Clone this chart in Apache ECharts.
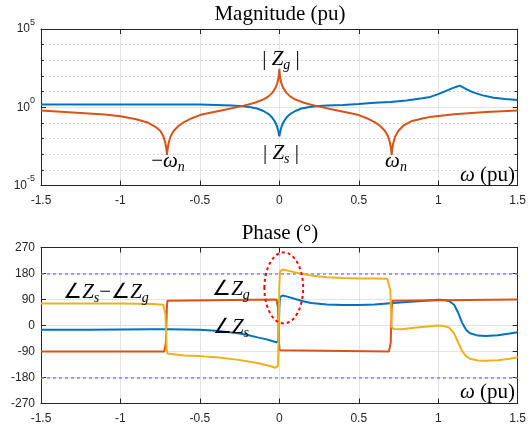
<!DOCTYPE html>
<html><head><meta charset="utf-8">
<script src="https://cdn.jsdelivr.net/npm/echarts@6/dist/echarts.min.js"></script>
<style>html,body{margin:0;padding:0;background:#fff}#c{width:529px;height:432px}</style>
</head><body><div id="c"></div><script>
// ---------- data ----------
const xTicks = [-1.5, -1, -0.5, 0, 0.5, 1, 1.5];
const magTickExponents = [-5, 0, 5];
const phaseTicks = [-270, -180, -90, 0, 90, 180, 270];
const phaseRefLines = [180, -180];

// |Z_s| (log10 of magnitude)
const zsMagOmega = [-1.5,-1.2,-0.9,-0.7,-0.5,-0.4,-0.3,-0.23,-0.18,-0.14,-0.1,-0.07,-0.05,-0.03,-0.015,-0.006,0,0.006,0.015,0.03,0.05,0.07,0.1,0.14,0.18,0.23,0.3,0.4,0.5,0.6,0.7,0.8,0.9,0.95,1.0,1.05,1.09,1.12,1.135,1.15,1.18,1.22,1.28,1.35,1.42,1.5];
const zsMagLog10 = [0.18,0.18,0.18,0.18,0.17,0.15,0.11,0.06,0.0,-0.08,-0.24,-0.42,-0.6,-0.88,-1.2,-1.55,-1.85,-1.55,-1.2,-0.88,-0.6,-0.42,-0.24,-0.08,0.0,0.06,0.11,0.15,0.2,0.29,0.34,0.43,0.57,0.66,0.84,1.05,1.22,1.33,1.38,1.3,1.14,0.95,0.76,0.61,0.53,0.46];

// |Z_g| (log10 of magnitude)
const zgMagOmega = [-1.5,-1.3,-1.1,-1.0,-0.9,-0.83,-0.78,-0.75,-0.73,-0.718,-0.711,-0.707,-0.703,-0.696,-0.684,-0.664,-0.635,-0.6,-0.55,-0.5,-0.45,-0.35,-0.25,-0.2,-0.15,-0.1,-0.07,-0.045,-0.025,-0.012,-0.004,0,0.004,0.012,0.025,0.045,0.07,0.1,0.15,0.2,0.25,0.35,0.45,0.5,0.55,0.6,0.635,0.664,0.684,0.696,0.703,0.707,0.711,0.718,0.73,0.75,0.78,0.83,0.9,0.96,1.1,1.3,1.5];
const zgMagLog10 = [-0.21,-0.33,-0.47,-0.58,-0.77,-0.97,-1.25,-1.5,-1.85,-2.25,-2.65,-3.05,-2.65,-2.25,-1.85,-1.5,-1.2,-0.95,-0.7,-0.5,-0.38,-0.17,0.04,0.16,0.3,0.5,0.68,0.92,1.22,1.55,1.95,2.45,1.95,1.55,1.22,0.92,0.68,0.5,0.3,0.16,0.04,-0.17,-0.38,-0.5,-0.7,-0.95,-1.2,-1.5,-1.85,-2.25,-2.65,-3.05,-2.65,-2.25,-1.85,-1.5,-1.18,-0.9,-0.72,-0.6,-0.44,-0.3,-0.21];

// angle Z_s (deg)
const zsPhaseOmega = [-1.5,-1.2,-1.0,-0.8,-0.7,-0.6,-0.5,-0.4,-0.3,-0.25,-0.2,-0.13,-0.08,-0.05,-0.02,-0.01,-0.006,-0.003,0,0.004,0.01,0.02,0.05,0.1,0.15,0.2,0.3,0.4,0.5,0.6,0.7,0.8,0.9,1.0,1.04,1.07,1.1,1.125,1.15,1.175,1.2,1.25,1.3,1.375,1.45,1.5];
const zsPhaseDeg = [-15,-15,-14,-13,-13,-14,-15,-18,-24,-28,-33,-42,-48,-53,-58,-59,-55,-10,60,98,103,104,100,92,84,78,73,71,71,73,77,81,85,89,88,84,72,45,10,-15,-27,-35,-36,-34,-28,-23];

// angle Z_g (deg)
const zgPhaseOmega = [-1.5,-0.724,-0.718,-0.714,-0.711,-0.708,-0.704,-0.697,-0.018,-0.012,-0.008,-0.005,-0.002,0.002,0.009,0.69,0.697,0.701,0.704,0.707,0.711,0.717,1.5];
const zgPhaseDeg = [-90,-90,-86,-60,0,60,86,90,90,86,60,0,-60,-86,-90,-90,-86,-60,0,60,86,90,90];

// angle Z_s - angle Z_g (deg)
const diffPhaseOmega = [-1.5,-1.0,-0.8,-0.73,-0.722,-0.717,-0.713,-0.709,-0.704,-0.695,-0.6,-0.5,-0.38,-0.256,-0.13,-0.06,-0.025,-0.014,-0.009,-0.006,-0.003,0,0.004,0.015,0.03,0.06,0.12,0.2,0.3,0.4,0.5,0.6,0.68,0.692,0.699,0.703,0.707,0.712,0.72,0.77,0.85,0.9,1.0,1.04,1.07,1.1,1.125,1.15,1.175,1.2,1.25,1.3,1.375,1.45,1.5];
const diffPhaseDeg = [76,76,74,72,68,40,-20,-80,-97,-101,-104,-106,-111,-119,-131,-140,-146,-147,-140,-90,20,140,185,192,193,189,181,173,167,164,163,163,162,158,120,40,-5,-10,-12,-13,-8,-5,0,-2,-8,-27,-58,-88,-106,-115,-121,-122,-120,-115,-110];

// ---------- chart ----------
const zip = (xs, ys) => xs.map((x, i) => [x, ys[i]]);
const BLUE = '#0072BD', ORANGE = '#D95319', YELLOW = '#EDB120';
const AX = '#262626';
const SANS = 'Liberation Sans, Arial, sans-serif';
const SERIF = 'Liberation Serif, Times New Roman, serif';

const chart = echarts.init(document.getElementById('c'), null, {renderer: 'canvas'});

function xAx(grid, pos, labels) {
  return {
    gridIndex: grid, type: 'value', position: pos, min: xTicks[0], max: xTicks[xTicks.length-1], interval: 0.5,
    axisLine: {show: true, onZero: false, lineStyle: {color: AX, width: 1}},
    axisTick: {show: true, inside: true, length: 5, lineStyle: {color: AX}},
    axisLabel: {show: labels, fontSize: 12, margin: 9, color: AX, fontFamily: SANS},
    splitLine: {show: labels, lineStyle: {color: '#e3e3e3', width: 1}}
  };
}
function yAxMag(pos, labels) {
  return {
    gridIndex: 0, type: 'value', position: pos, min: magTickExponents[0], max: magTickExponents[2], interval: 5,
    axisLine: {show: true, onZero: false, lineStyle: {color: AX}},
    axisTick: {show: true, inside: true, length: 5, lineStyle: {color: AX}},
    minorTick: {show: true, splitNumber: 5, length: 3, lineStyle: {color: AX}},
    minorSplitLine: {show: labels, lineStyle: {color: '#d6d6d6', type: [2, 2]}},
    splitLine: {show: labels, lineStyle: {color: '#e3e3e3'}},
    axisLabel: {show: labels, margin: 6, color: AX, fontFamily: SANS,
      formatter: v => magTickExponents.includes(v) ? '{b|10}{s|' + v + '}' : '',
      rich: {b: {fontSize: 12, lineHeight: 22, fontFamily: SANS, color: AX},
             s: {fontSize: 9, lineHeight: 10, verticalAlign: 'top', fontFamily: SANS, color: AX}}}
  };
}
function yAxPh(pos, labels) {
  return {
    gridIndex: 1, type: 'value', position: pos, min: phaseTicks[0], max: phaseTicks[phaseTicks.length-1], interval: 90,
    axisLine: {show: true, onZero: false, lineStyle: {color: AX}},
    axisTick: {show: true, inside: true, length: 5, lineStyle: {color: AX}},
    splitLine: {show: labels, lineStyle: {color: '#e3e3e3'}},
    axisLabel: {show: labels, fontSize: 12, margin: 6, color: AX, fontFamily: SANS}
  };
}
function lineSeries(xi, yi, data, color, z) {
  return {type: 'line', xAxisIndex: xi, yAxisIndex: yi, data: data, showSymbol: false, symbol: 'none',
    smooth: false, lineStyle: {color: color, width: 2}, itemStyle: {color: color}, z: z, animation: false};
}

const phaseBlue = lineSeries(2, 2, zip(zsPhaseOmega, zsPhaseDeg), BLUE, 3);
phaseBlue.markLine = {silent: true, symbol: 'none', label: {show: false},
  lineStyle: {color: '#8282ff', type: [3, 3], width: 1.5},
  data: phaseRefLines.map(v => ({yAxis: v}))};

chart.setOption({
  backgroundColor: '#fff',
  animation: false,
  grid: [
    {left: 41, right: 9, top: 29, height: 156.5, containLabel: false},
    {left: 41, right: 9, top: 247.5, height: 156, containLabel: false}
  ],
  xAxis: [xAx(0, 'bottom', true), xAx(0, 'top', false), xAx(1, 'bottom', true), xAx(1, 'top', false)],
  yAxis: [yAxMag('left', true), yAxMag('right', false), yAxPh('left', true), yAxPh('right', false)],
  series: [
    lineSeries(0, 0, zip(zsMagOmega, zsMagLog10), BLUE, 3),
    lineSeries(0, 0, zip(zgMagOmega, zgMagLog10), ORANGE, 4),
    phaseBlue,
    lineSeries(2, 2, zip(zgPhaseOmega, zgPhaseDeg), ORANGE, 4),
    lineSeries(2, 2, zip(diffPhaseOmega, diffPhaseDeg), YELLOW, 5)
  ]
});

// ---------- annotations ----------
const richStyle = {
  r: {fontFamily: SERIF, fontSize: 21, lineHeight: 26, fill: '#000', color: '#000'},
  i: {fontFamily: SERIF, fontSize: 21, fontStyle: 'italic', lineHeight: 26, color: '#000'},
  sub: {fontFamily: SERIF, fontSize: 14, fontStyle: 'italic', lineHeight: 14, verticalAlign: 'bottom', color: '#000'}
};
function txt(x, y, s, align) {
  return {type: 'text', x: x, y: y, z: 100, silent: true,
    style: {text: s, rich: richStyle, align: align || 'center', verticalAlign: 'middle',
      font: '21px ' + SERIF, fill: '#000'}};
}
const ec = chart.convertToPixel({xAxisIndex: 2, yAxisIndex: 2}, [0.028, 130]);
const ee = chart.convertToPixel({xAxisIndex: 2, yAxisIndex: 2}, [0.028 + 0.122, 130 + 123]);
chart.setOption({graphic: [
  txt(280, 14, '{r|Magnitude (pu)}'),
  txt(281, 59, '{r|| }{i|Z}{sub|g}{r| |}'),
  txt(281, 153, '{r|| }{i|Z}{sub|s}{r| |}'),
  txt(168, 161, '{r|−}{i|ω}{sub|n}'),
  txt(396, 161, '{i|ω}{sub|n}'),
  txt(515, 175, '{i|ω}{r| (pu)}', 'right'),
  txt(280, 233, '{r|Phase (°)}'),
  txt(106, 292, '{r|∠}{i|Z}{sub|s}{r|−∠}{i|Z}{sub|g}'),
  txt(231, 289, '{r|∠}{i|Z}{sub|g}'),
  txt(231, 327, '{r|∠}{i|Z}{sub|s}'),
  txt(515, 392, '{i|ω}{r| (pu)}', 'right'),
  {type: 'ellipse', z: 90, silent: true,
   shape: {cx: ec[0], cy: ec[1], rx: Math.abs(ee[0] - ec[0]), ry: Math.abs(ec[1] - ee[1])},
   style: {fill: 'none', stroke: '#ff0000', lineWidth: 2, lineDash: [3, 3]}}
]});
</script></body></html>
